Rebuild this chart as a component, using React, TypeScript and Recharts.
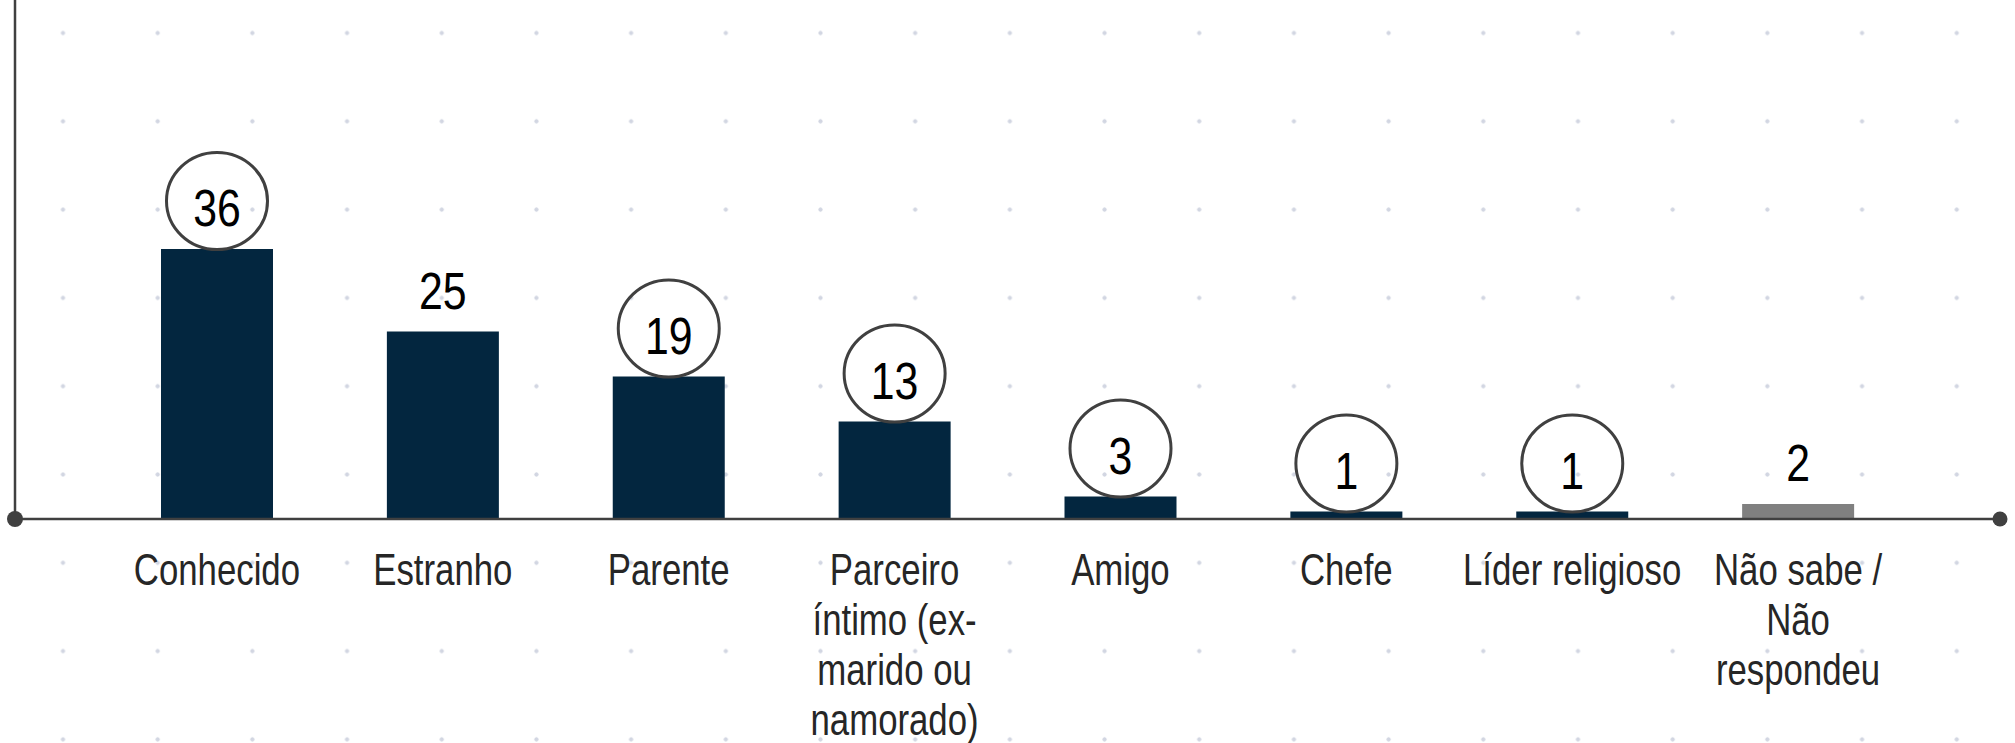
import React from 'react';
import * as R from 'recharts';
import { BarChart, Bar, XAxis, YAxis, Cell, LabelList } from 'recharts';

const categories = [
  'Conhecido',
  'Estranho',
  'Parente',
  'Parceiro\níntimo (ex-\nmarido ou\nnamorado)',
  'Amigo',
  'Chefe',
  'Líder religioso',
  'Não sabe /\nNão\nrespondeu',
];
const values = [36, 25, 19, 13, 3, 1, 1, 2];
const circled = [true, false, true, true, true, true, true, false];
const isUnknown = [false, false, false, false, false, false, false, true];

const data = categories.map((name, i) => ({
  name,
  value: values[i],
  circled: circled[i],
  unknown: isUnknown[i],
}));

const FONT = "'Liberation Sans Narrow', 'Arial Narrow', 'Liberation Sans', Arial, sans-serif";
const AXIS = '#404040';

const ValueLabel = (props: any) => {
  const { x, y, width, index, value } = props;
  const cx = Number(x) + Number(width) / 2;
  const top = Number(y);
  const c = circled[index];
  return (
    <g>
      {c && (
        <ellipse cx={cx} cy={top - 48} rx={50.5} ry={48.5} fill="none" stroke={AXIS} strokeWidth={3} />
      )}
      <text
        transform={`translate(${cx},${top - 23}) scale(0.84,1)`}
        textAnchor="middle"
        fontFamily={FONT}
        fontSize={51}
        fill="#000"
      >
        {value}
      </text>
    </g>
  );
};

const CategoryTick = (props: any) => {
  const { x, y, payload } = props;
  const lines = String(payload.value).split('\n');
  return (
    <g>
      {lines.map((ln, i) => (
        <text
          key={i}
          transform={`translate(${x},${Number(y) + 66 + i * 50}) scale(0.79,1)`}
          textAnchor="middle"
          fontFamily={FONT}
          fontSize={44}
          fill="#262626"
        >
          {ln}
        </text>
      ))}
    </g>
  );
};

const usePA: any = (R as any).usePlotArea || (() => null);

const AxisEndDots = () => {
  const pa = usePA();
  if (!pa) return null;
  const by = pa.y + pa.height;
  return (
    <g>
      <circle cx={pa.x} cy={by} r={8} fill={AXIS} />
      <circle cx={pa.x + pa.width} cy={by} r={7.5} fill={AXIS} />
    </g>
  );
};

export default function App() {
  return (
    <div
      style={{
        position: 'absolute',
        left: 0,
        top: 0,
        width: 2015,
        height: 743,
        background: '#fff',
        backgroundImage: 'radial-gradient(circle, #d2d6e2 1.8px, rgba(255,255,255,0) 2.4px)',
        backgroundSize: '94.7px 88.3px',
        backgroundPosition: '15.65px -11.15px',
      }}
    >
      <BarChart
        width={2015}
        height={743}
        data={data}
        margin={{ top: 0, right: 15, left: 14, bottom: 0 }}
        barSize={112}
      >
        <YAxis
          width={1}
          domain={[0, 69.2]}
          allowDataOverflow
          tick={false}
          tickLine={false}
          axisLine={{ stroke: AXIS, strokeWidth: 2.5 }}
        />
        <XAxis
          dataKey="name"
          height={224}
          interval={0}
          padding={{ left: 89, right: 89 }}
          tickLine={false}
          tickSize={0}
          tickMargin={0}
          axisLine={{ stroke: AXIS, strokeWidth: 2.5 }}
          tick={<CategoryTick />}
        />
        <Bar dataKey="value" isAnimationActive={false}>
          {data.map((d, i) => (
            <Cell key={i} fill={d.unknown ? '#808080' : '#03263f'} />
          ))}
          <LabelList dataKey="value" content={<ValueLabel />} />
        </Bar>
        <AxisEndDots />
      </BarChart>
    </div>
  );
}
